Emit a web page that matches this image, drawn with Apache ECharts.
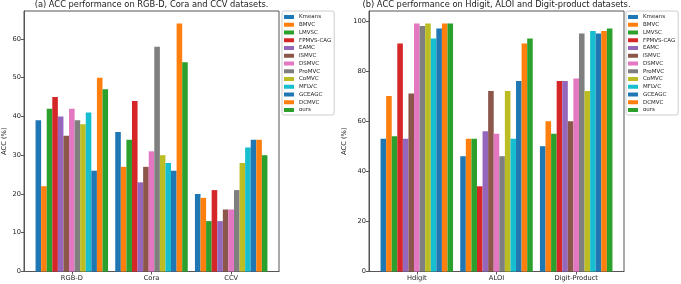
<!DOCTYPE html>
<html>
<head>
<meta charset="utf-8">
<script src="https://cdn.jsdelivr.net/npm/echarts@6/dist/echarts.min.js"></script>
<style>html,body{margin:0;padding:0;background:#fff}#c{width:681px;height:284px}</style>
</head>
<body>
<div id="c"></div>
<script>
const methods = ['Kmeans','BMVC','LMVSC','FPMVS-CAG','EAMC','ISMVC','DSMVC','ProMVC','CoMVC','MFLVC','GCEAGC','DCMVC','ours'];
const colors = ['#1f77b4','#ff7f0e','#2ca02c','#d62728','#9467bd','#8c564b','#e377c2','#7f7f7f','#bcbd22','#17becf','#1f77b4','#ff7f0e','#2ca02c'];

const catsA = ['RGB-D','Cora','CCV'];
const accA_RGBD = [39,22,42,45,40,35,42,39,38,41,26,50,47];
const accA_Cora = [36,27,34,44,23,27,31,58,30,28,26,64,54];
const accA_CCV  = [20,19,13,21,13,16,16,21,28,32,34,34,30];
const ticksA = [0,10,20,30,40,50,60];

const catsB = ['Hdigit','ALOI','Digit-Product'];
const accB_Hdigit = [53,70,54,91,53,71,99,98,99,93,97,99,99];
const accB_ALOI   = [46,53,53,34,56,72,55,46,72,53,76,91,93];
const accB_DP     = [50,60,55,76,76,60,77,95,72,96,95,96,97];
const ticksB = [0,20,40,60,80,100];

const titleA = '(a) ACC performance on RGB-D, Cora and CCV datasets.';
const titleB = '(b) ACC performance on Hdigit, ALOI and Digit-product datasets.';

const groupsA = [accA_RGBD, accA_Cora, accA_CCV];
const groupsB = [accB_Hdigit, accB_ALOI, accB_DP];
const maxA = Math.max(...groupsA.flat()) * 1.05;
const maxB = Math.max(...groupsB.flat()) * 1.05;

const FONT = 'DejaVu Sans';
const TXT = '#1a1a1a';
const FRAME = '#555';

function xAxisFor(gi, cats) {
  return {
    type: 'value', gridIndex: gi, min: -0.6, max: 2.6,
    splitLine: {show: false},
    axisLine: {show: true, onZero: false, lineStyle: {color: FRAME, width: 1}},
    axisTick: {show: true, length: 3, customValues: [0,1,2], lineStyle: {color: FRAME}},
    axisLabel: {customValues: [0,1,2], formatter: v => cats[Math.round(v)], color: TXT, fontFamily: FONT, fontSize: 6.7, margin: 3}
  };
}
function yAxisFor(gi, max, ticks, gap) {
  return {
    type: 'value', gridIndex: gi, min: 0, max: max,
    name: 'ACC (%)', nameLocation: 'middle', nameGap: gap,
    nameTextStyle: {color: TXT, fontFamily: FONT, fontSize: 6.7},
    splitLine: {show: false},
    axisLine: {show: true, onZero: false, lineStyle: {color: FRAME, width: 1}},
    axisTick: {show: true, length: 3, customValues: ticks, lineStyle: {color: FRAME}},
    axisLabel: {customValues: ticks, color: TXT, fontFamily: FONT, fontSize: 6.7, margin: 3}
  };
}
function seriesFor(gi, groups) {
  return methods.map((m, i) => ({
    name: m, type: 'bar', xAxisIndex: gi, yAxisIndex: gi,
    barGap: '0%', barCategoryGap: '9%',
    itemStyle: {color: colors[i]},
    data: groups.map((g, k) => [k, g[i]])
  }));
}
function legendFor(left) {
  return {
    orient: 'vertical', left: left, top: 11,
    data: methods, icon: 'rect', itemWidth: 10, itemHeight: 4, itemGap: 1.75,
    padding: [3, 3, 2, 2],
    borderColor: '#ccc', borderWidth: 1, borderRadius: 2,
    textStyle: {color: TXT, fontFamily: FONT, fontSize: 5.5, lineHeight: 6},
    selectedMode: false
  };
}

const chart = echarts.init(document.getElementById('c'), null, {renderer: 'canvas'});
chart.setOption({
  animation: false,
  backgroundColor: '#fff',
  textStyle: {fontFamily: FONT},
  graphic: [
    {type: 'text', x: 151.5, y: 0.8, style: {text: titleA, fill: TXT, font: '8.3px "DejaVu Sans"', textAlign: 'center', textVerticalAlign: 'top'}},
    {type: 'text', x: 496.5, y: 0.8, style: {text: titleB, fill: TXT, font: '8.3px "DejaVu Sans"', textAlign: 'center', textVerticalAlign: 'top'}}
  ],
  grid: [
    {left: 24, top: 11, width: 255, height: 260.5, show: true, borderColor: FRAME, borderWidth: 1, backgroundColor: 'transparent'},
    {left: 369, top: 11, width: 255, height: 260.5, show: true, borderColor: FRAME, borderWidth: 1, backgroundColor: 'transparent'}
  ],
  legend: [legendFor(282), legendFor(626)],
  xAxis: [xAxisFor(0, catsA), xAxisFor(1, catsB)],
  yAxis: [yAxisFor(0, maxA, ticksA, 16), yAxisFor(1, maxB, ticksB, 21)],
  series: [...seriesFor(0, groupsA), ...seriesFor(1, groupsB)]
});
</script>
</body>
</html>
